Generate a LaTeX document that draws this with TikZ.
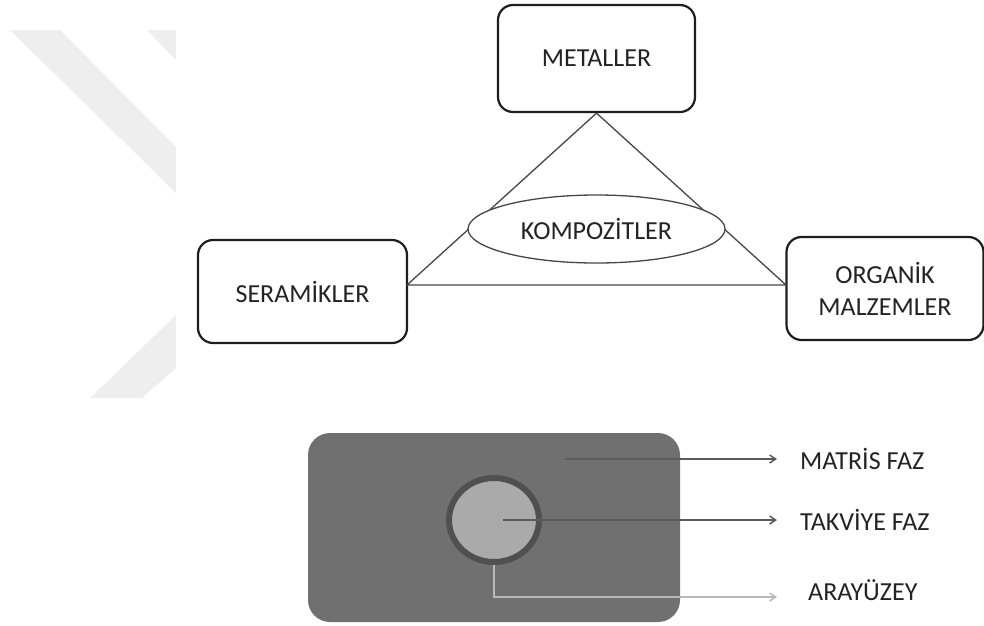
\documentclass[tikz,border=0pt]{standalone}
\usepackage{fontspec}
\setmainfont{Carlito}
\usetikzlibrary{shapes.geometric,arrows.meta}
\definecolor{wmark}{RGB}{238,238,238}
\definecolor{boxline}{RGB}{30,30,30}
\definecolor{triline}{RGB}{70,70,70}
\definecolor{txt}{RGB}{35,35,35}
\definecolor{matrixgray}{RGB}{112,112,112}
\definecolor{fibgray}{RGB}{170,170,170}
\definecolor{ringgray}{RGB}{80,80,80}
\definecolor{darkarrow}{RGB}{90,90,90}
\definecolor{lightarrow}{RGB}{185,185,185}
\tikzset{
  classbox/.style={draw=boxline, line width=2.2pt, rounded corners=15pt, fill=white,
    inner sep=0pt, align=center, text=txt, font=\fontsize{26}{32}\selectfont},
  compo/.style={ellipse, draw=triline, line width=1.3pt, fill=white, inner sep=0pt,
    text=txt, font=\fontsize{26}{29}\selectfont},
  phaselabel/.style={anchor=west, inner sep=0pt, text=txt, font=\fontsize{26}{29}\selectfont},
  callout/.style={line width=1.5pt, -{Straight Barb[length=6pt,width=8pt]}},
}
\begin{document}
\begin{tikzpicture}[x=1pt,y=-1pt]
\useasboundingbox (0,0) rectangle (984,625);
% faint diagonal bands at the left margin
\fill[wmark] (10,30) -- (60,30) -- (176,147) -- (176,193) -- cycle;
\fill[wmark] (147,30) -- (176,30) -- (176,60) -- cycle;
\fill[wmark] (90,398) -- (142,398) -- (176,368) -- (176,315) -- cycle;

% material classes
\node[classbox, minimum width=197pt, minimum height=107pt] (met) at (596.5,58.5) {METALLER};
\node[classbox, minimum width=209pt, minimum height=103pt] (ser) at (302.5,291.5) {SERAMİKLER};
\node[classbox, minimum width=197pt, minimum height=103pt] (org) at (885,288.5) {ORGANİK\\MALZEMLER};

% triangle joining the three classes
\coordinate (bl) at (407,285);
\coordinate (br) at (786,285);
\draw[triline, line width=1.3pt, line join=round] (met.south) -- (bl) -- (br) -- cycle;
\node[compo, minimum width=257pt, minimum height=68pt] (kom) at (596.5,229) {KOMPOZİTLER};

% composite cross-section
\node[fill=matrixgray, rounded corners=22pt, minimum width=372pt, minimum height=189pt, inner sep=0pt] (mat) at (494,527.5) {};
\node[ellipse, fill=fibgray, draw=ringgray, line width=6pt, minimum width=90pt, minimum height=84pt, inner sep=0pt] (fib) at (494,520) {};

% phase labels
\node[phaselabel] (lm) at (800,459) {MATRİS FAZ};
\node[phaselabel] (lt) at (800,520) {TAKVİYE FAZ};
\node[phaselabel] (la) at (808,590) {ARAYÜZEY};

\coordinate (mp) at (565,459);
\coordinate (me) at (777,459);
\coordinate (tp) at (503,520);
\coordinate (te) at (777,520);
\coordinate (ae) at (777,597);
\draw[callout, darkarrow] (mp) -- (me);
\draw[callout, darkarrow] (tp) -- (te);
\draw[callout, lightarrow] (fib.south) |- (ae);
\end{tikzpicture}
\end{document}
